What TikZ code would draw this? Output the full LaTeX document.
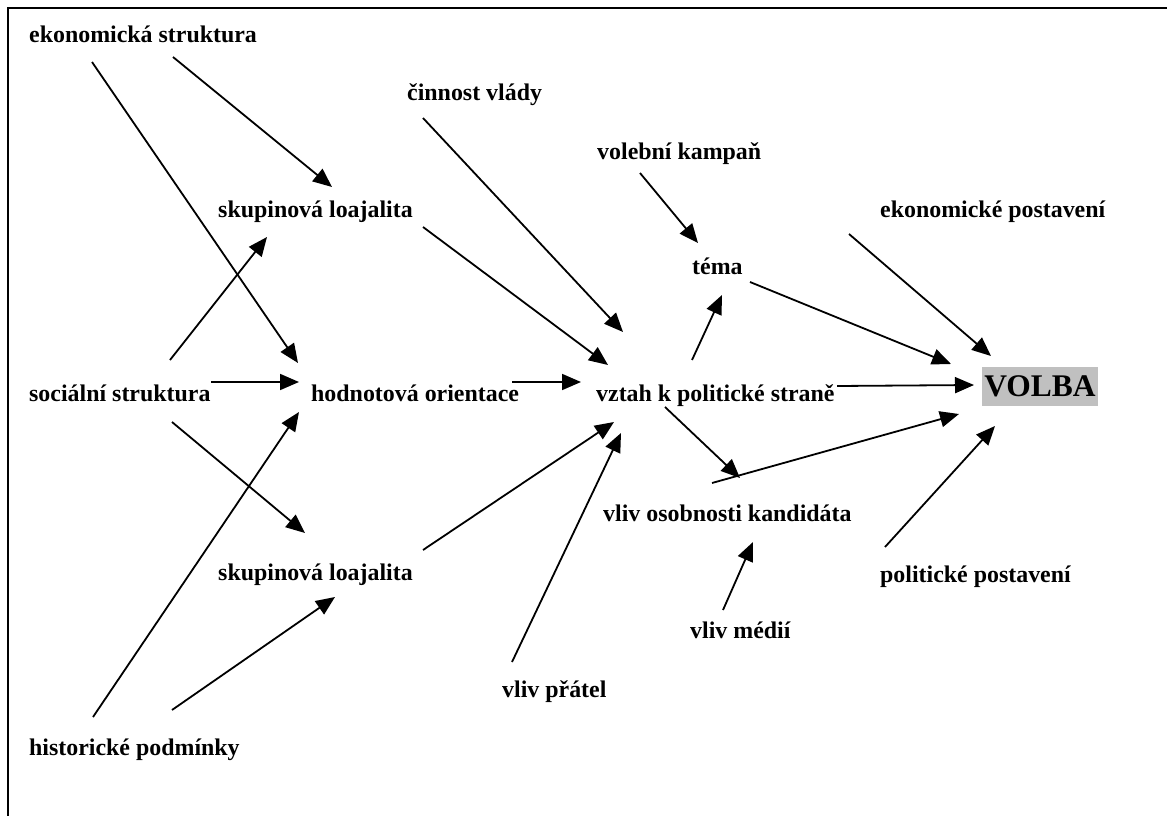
\documentclass[tikz,border=0pt]{standalone}
\usepackage{fontspec}
\setmainfont{Liberation Serif}
\usepackage{tikz}
\usetikzlibrary{arrows.meta}
\definecolor{boxgray}{HTML}{C0C0C0}

\tikzset{
  lbl/.style={inner sep=0pt, anchor=base west, font=\fontsize{23.9}{28}\selectfont\bfseries},
  arr/.style={line width=1.8pt, -{Triangle[length=19pt,width=16pt]}},
  goal/.style={fill=boxgray, inner xsep=2.5pt, inner ysep=0pt, minimum height=39pt,
    font=\fontsize{31.5}{34}\selectfont\bfseries}
}

\begin{document}
\begin{tikzpicture}[x=1pt,y=-1pt]

\useasboundingbox (0,0) rectangle (1167,816);
% frame
\draw[line width=2.6pt] (8,816) -- (8,8) -- (1167,8);

% causes, left to right
\node[lbl] (ekon) at (29,43) {ekonomická struktura};
\node[lbl] (soc) at (29,401) {sociální struktura};
\node[lbl] (hist) at (29,755) {historické podmínky};
\node[lbl] (skupA) at (218,217) {skupinová loajalita};
\node[lbl] (hod) at (311,401) {hodnotová orientace};
\node[lbl] (skupB) at (218,580) {skupinová loajalita};
\node[lbl] (cinn) at (407,100) {činnost vlády};
\node[lbl] (vztah) at (596,401) {vztah k politické straně};
\node[lbl] (prat) at (502,697) {vliv přátel};
\node[lbl] (kamp) at (597,159) {volební kampaň};
\node[lbl] (tema) at (692,274) {téma};
\node[lbl] (osob) at (603,521) {vliv osobnosti kandidáta};
\node[lbl] (medii) at (690,638) {vliv médií};
\node[lbl] (ekpost) at (880,217) {ekonomické postavení};
\node[lbl] (polpost) at (880,582) {politické postavení};
\node[goal] (volba) at (1040,386) {VOLBA};

% arrows: from/dx/dy/to/dx/dy
\foreach \a/\ax/\ay/\b/\bx/\by in {
  ekon.base west/144/14/skupA.base west/114/-30,
  ekon.base west/63/19/hod.base west/-13/-38,
  soc.base west/141/-41/skupA.base west/49/20,
  soc.base west/182/-19/hod.base west/-12/-19,
  soc.base west/143/21/skupB.base west/87/-47,
  hist.base west/64/-38/hod.base west/-12/11,
  hist.base west/143/-45/skupB.base west/117/17,
  skupA.base west/205/10/vztah.base west/12/-36,
  hod.base west/201/-19/vztah.base west/-15/-19,
  skupB.base west/205/-30/vztah.base west/18/21,
  cinn.base west/16/18/vztah.base west/27/-69,
  prat.base west/10/-35/vztah.base west/25/32,
  kamp.base west/43/14/tema.base west/6/-31,
  vztah.base west/96/-41/tema.base west/30/21,
  vztah.base west/69/6/osob.base west/137/-43,
  medii.base west/33/-28/osob.base west/150/21,
  tema.base west/58/8/volba.center/-89/-22,
  ekpost.base west/-31/17/volba.center/-49/-30,
  vztah.base west/241/-15/volba.center/-66/-1,
  osob.base west/109/-38/volba.center/-81/28,
  polpost.base west/5/-35/volba.center/-45/40}
{
  \draw[arr] ([shift={(\ax,\ay)}]\a) -- ([shift={(\bx,\by)}]\b);
}

\end{tikzpicture}
\end{document}
